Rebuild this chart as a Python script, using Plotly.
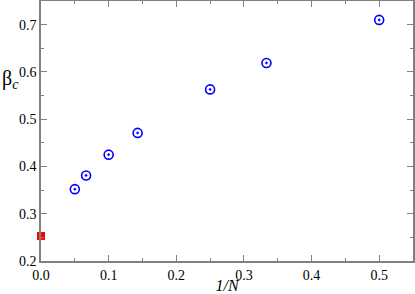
import plotly.graph_objects as go

inv_n = [0.05, 1/15, 0.1, 1/7, 0.25, 1/3, 0.5]
beta_c = [0.352, 0.381, 0.425, 0.471, 0.563, 0.619, 0.710]
extrap_x = [0.0]
extrap_y = [0.253]

x_ticks = [0.0, 0.1, 0.2, 0.3, 0.4, 0.5]
x_ticklabels = ["0.0", "0.1", "0.2", "0.3", "0.4", "0.5"]
y_ticks = [0.2, 0.3, 0.4, 0.5, 0.6, 0.7]
y_ticklabels = ["0.2", "0.3", "0.4", "0.5", "0.6", "0.7"]

SERIF = "Liberation Serif, Times New Roman, serif"

fig = go.Figure()
fig.add_trace(go.Scatter(x=inv_n, y=beta_c, mode="markers",
                         marker=dict(symbol="circle-dot", size=9, color="rgba(0,0,0,0)",
                                     line=dict(color="#0000ff", width=1.6)),
                         cliponaxis=False, showlegend=False, hoverinfo="skip"))
fig.add_trace(go.Scatter(x=extrap_x, y=extrap_y, mode="markers",
                         marker=dict(symbol="square", size=8, color="#ff0000",
                                     line=dict(width=0)),
                         cliponaxis=False, showlegend=False, hoverinfo="skip"))

axis_common = dict(showgrid=False, zeroline=False, showline=True, linecolor="#808080",
                   linewidth=1.5, mirror="ticks", ticks="inside", tickcolor="#808080",
                   ticklen=6, tickwidth=1, automargin=False,
                   tickfont=dict(family=SERIF, size=14, color="#000"))
fig.update_xaxes(range=[0, 0.55], tickvals=x_ticks, ticktext=x_ticklabels,
                 minor=dict(dtick=0.05, ticks="inside", ticklen=3, tickcolor="#808080"),
                 title=dict(text="<i>1/N</i>", font=dict(family=SERIF, size=16, color="#000"),
                            standoff=3),
                 **axis_common)
fig.update_yaxes(range=[0.2, 0.75], tickvals=y_ticks, ticktext=y_ticklabels,
                 minor=dict(dtick=0.05, ticks="inside", ticklen=3, tickcolor="#808080"),
                 ticklabelstandoff=0,
                 **axis_common)
fig.add_annotation(text="β<sub><i>c</i></sub>", xref="paper", yref="paper",
                   x=-0.083, y=0.7, showarrow=False, xanchor="center", yanchor="middle",
                   font=dict(family=SERIF, size=20, color="#000"))
fig.update_layout(width=415, height=294, margin=dict(l=41, r=2, t=1, b=33, autoexpand=False),
                  plot_bgcolor="white", paper_bgcolor="white", hovermode=False)
fig.write_html("out.html", config={"displayModeBar": False},
               post_script="document.body.style.margin='0';document.body.style.overflow='hidden';")
